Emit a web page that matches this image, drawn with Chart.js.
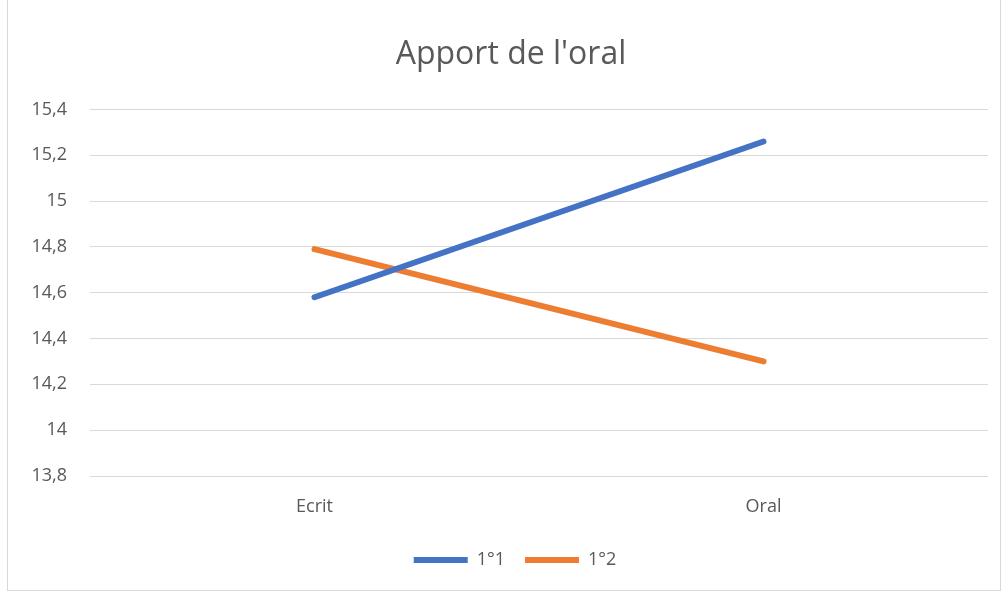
<!DOCTYPE html>
<html>
<head>
<meta charset="utf-8">
<script src="https://cdn.jsdelivr.net/npm/chart.js@4/dist/chart.umd.min.js"></script>
<style>
    body { margin: 0; background: #ffffff; }
    #cadre {
        position: absolute;
        left: 7px; top: -1px;
        width: 992px; height: 590px;
        border: 1px solid #d9d9d9;
    }
    #zone { position: absolute; left: 0; top: 0; width: 1006px; height: 592px; }
</style>
</head>
<body>
<div id="cadre"></div>
<div id="zone"><canvas id="graficoOral"></canvas></div>
<script>
// donnees
var categories = ['Ecrit', 'Oral'];
var serie1 = [14.58, 15.26];
var serie2 = [14.79, 14.30];
var nomsSeries = ['1°1', '1°2'];
var echelleMin = 13.8;
var echelleMax = 15.4;
var pas = 0.2;

var gris = '#595959';
var police = 'Open Sans';

// decale titre et legende vers la droite (centres comme dans Excel)
const decalerBlocs = {
    id: 'decalerBlocs',
    afterLayout: function (chart) {
        if (chart.legend) {
            chart.legend.left += 21;
            chart.legend.right += 21;
        }
        if (chart.titleBlock) {
            chart.titleBlock.left += 17;
            chart.titleBlock.right += 17;
        }
    }
};

const data = {
    labels: categories,
    datasets: [{
        label: nomsSeries[0],
        data: serie1,
        borderColor: '#4472C4',
        backgroundColor: '#4472C4',
        borderWidth: 6,
        borderCapStyle: 'round',
        pointRadius: 0,
        tension: 0
    }, {
        label: nomsSeries[1],
        data: serie2,
        borderColor: '#ED7D31',
        backgroundColor: '#ED7D31',
        borderWidth: 6,
        borderCapStyle: 'round',
        pointRadius: 0,
        tension: 0
    }]
};

const config = {
    type: 'line',
    data: data,
    plugins: [decalerBlocs],
    options: {
        responsive: false,
        animation: false,
        layout: { padding: { left: 0, right: 18, top: 0, bottom: 13 } },
        plugins: {
            title: {
                display: true,
                text: "Apport de l'oral",
                color: gris,
                font: { family: police, size: 32, weight: 'normal' },
                padding: { top: 36, bottom: 35 }
            },
            legend: {
                position: 'bottom',
                labels: {
                    color: gris,
                    font: { family: police, size: 18 },
                    usePointStyle: true,
                    pointStyle: 'line',
                    pointStyleWidth: 54,
                    boxHeight: 18,
                    padding: 20
                }
            },
            tooltip: { enabled: false }
        },
        scales: {
            x: {
                offset: true,
                grid: { display: false, drawTicks: false },
                border: { display: false },
                ticks: { color: gris, font: { family: police, size: 18 }, padding: 20 },
                afterFit: function (scale) { scale.height = 55; }
            },
            y: {
                min: echelleMin,
                max: echelleMax,
                grid: { color: '#d9d9d9', lineWidth: 1, drawTicks: false },
                border: { display: false },
                ticks: {
                    stepSize: pas,
                    color: gris,
                    font: { family: police, size: 18 },
                    padding: 23,
                    callback: function (v) {
                        return String(Math.round(v * 10) / 10).replace('.', ',');
                    }
                },
                afterFit: function (scale) { scale.width = 90; }
            }
        }
    }
};

var canva = document.getElementById('graficoOral');
canva.width = 1006;
canva.height = 592;
const graficoOral = new Chart(canva, config);
</script>
</body>
</html>
